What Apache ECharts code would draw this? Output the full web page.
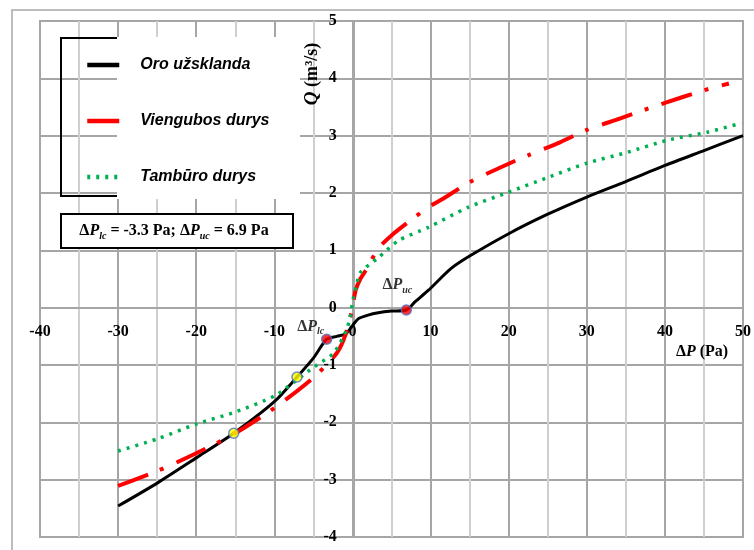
<!DOCTYPE html>
<html>
<head>
<meta charset="utf-8">
<script src="https://cdn.jsdelivr.net/npm/echarts@6/dist/echarts.min.js"></script>
<style>
  html, body { margin: 0; padding: 0; background: #fff; }
  #chart { width: 754px; height: 550px; }
</style>
</head>
<body>
<div id="chart"></div>
<script>
// Oro užsklanda (black)
var blackX = [-30, -25, -20, -15.2, -10, -7.1, -5, -3.3, -2, -0.9, -0.3, 0.3, 0.8, 2, 3.3, 5, 6.9, 8, 9.7, 12.6, 15, 20, 25, 30, 35, 40, 45, 50];
var blackY = [-3.46, -3.06, -2.62, -2.19, -1.64, -1.21, -0.88, -0.55, -0.5, -0.46, -0.37, -0.26, -0.19, -0.13, -0.09, -0.06, -0.04, 0.1, 0.3, 0.68, 0.9, 1.29, 1.63, 1.93, 2.2, 2.48, 2.74, 3.0];

// Viengubos durys (red)
var redX = [-30, -25, -20, -15, -10, -5, -2, -0.8, 0, 0.4, 1, 1.7, 3.3, 5, 8, 9.7, 11.6, 15, 19, 22.7, 26.5, 30, 34.3, 38, 42.2, 45.7, 48.2];
var redY = [-3.11, -2.85, -2.54, -2.19, -1.75, -1.22, -0.79, -0.44, 0, 0.3, 0.5, 0.65, 1.03, 1.26, 1.58, 1.75, 1.9, 2.19, 2.45, 2.67, 2.88, 3.1, 3.3, 3.48, 3.67, 3.82, 3.91];

// Tambūro durys (green)
var greenX = [-30, -25, -20, -15, -10, -7, -5, -2.4, -0.8, -0.3, 0.1, 0.5, 1, 3.3, 5.9, 9.7, 14.8, 19.9, 25, 30, 35.2, 40.3, 45.4, 49.8];
var greenY = [-2.5, -2.29, -2.03, -1.82, -1.54, -1.25, -1.04, -0.79, -0.4, -0.17, 0.16, 0.38, 0.61, 0.87, 1.17, 1.4, 1.75, 2.01, 2.27, 2.52, 2.71, 2.92, 3.06, 3.22];

// marked points
var markX = [-15.2, -7.1, -3.3, 6.9];
var markY = [-2.19, -1.21, -0.55, -0.04];
var markColor = ['#ffff00', '#ffff00', '#ff0000', '#ff0000'];
var markLabel = ['', '', 'lc', 'uc'];

var seriesNames = ['Oro užsklanda', 'Viengubos durys', 'Tambūro durys'];

function pairs(xs, ys) {
    return xs.map(function (x, i) { return [x, ys[i]]; });
}

var serif = 'Liberation Serif';
var rich = {
    n: { fontFamily: serif, fontWeight: 'bold', fontSize: 16, color: '#000', lineHeight: 20 },
    i: { fontFamily: serif, fontWeight: 'bold', fontStyle: 'italic', fontSize: 16, color: '#000', lineHeight: 20 },
    s: { fontFamily: serif, fontWeight: 'bold', fontStyle: 'italic', fontSize: 10, color: '#000', lineHeight: 12, verticalAlign: 'bottom' },
    qn: { fontFamily: serif, fontWeight: 'bold', fontSize: 18, color: '#000', lineHeight: 22 },
    qi: { fontFamily: serif, fontWeight: 'bold', fontStyle: 'italic', fontSize: 19, color: '#000', lineHeight: 22 }
};

var labelStyle = { fontFamily: serif, fontWeight: 'bold', fontSize: 16, color: '#000' };

// grid geometry: axes cross at the origin
var gridLeft = 40, gridRight = 8, gridTop = 21, gridBottom = 13;
var plotW = 754 - gridLeft - gridRight, plotH = 550 - gridTop - gridBottom;
var xZeroOffset = -plotW * 40 / 90;   // y axis moved from left edge to x = 0
var yZeroOffset = -plotH * 4 / 9;     // x axis moved from bottom edge to y = 0

var myChart = echarts.init(document.getElementById('chart'), null, { renderer: 'canvas' });

myChart.setOption({
    animation: false,
    backgroundColor: '#fff',
    grid: {
        left: gridLeft, right: gridRight, top: gridTop, bottom: gridBottom,
        show: true, borderColor: '#a6a6a6', borderWidth: 2
    },
    legend: {
        orient: 'vertical',
        left: 85, top: 57,
        padding: 0,
        itemGap: 40,
        itemWidth: 32,
        itemHeight: 16,
        z: 10,
        data: seriesNames,
        itemStyle: { opacity: 0 },
        lineStyle: { width: 4.5 },
        textStyle: {
            fontFamily: 'Liberation Sans', fontWeight: 'bold', fontStyle: 'italic',
            fontSize: 16, color: '#000', padding: [0, 0, 0, 16]
        }
    },
    xAxis: {
        type: 'value', min: -40, max: 50, interval: 10,
        position: 'bottom', offset: yZeroOffset,
        axisLine: { onZero: false, lineStyle: { color: '#a6a6a6', width: 2 } },
        axisTick: { show: false },
        axisLabel: Object.assign({ margin: 16 }, labelStyle),
        splitLine: { lineStyle: { color: '#a6a6a6', width: 2 } },
        minorTick: { show: false, splitNumber: 2 },
        minorSplitLine: { show: true, lineStyle: { color: '#cfcfcf', width: 2 } }
    },
    yAxis: {
        type: 'value', min: -4, max: 5, interval: 1,
        position: 'left', offset: xZeroOffset,
        axisLine: { onZero: false, lineStyle: { color: '#a6a6a6', width: 2 } },
        axisTick: { show: false },
        axisLabel: Object.assign({ margin: 17 }, labelStyle),
        splitLine: { lineStyle: { color: '#a6a6a6', width: 2 } }
    },
    graphic: [
        // outer frame
        { type: 'rect', z: 0, shape: { x: 12, y: 10, width: 800, height: 600 },
          style: { fill: 'none', stroke: '#bdbdbd', lineWidth: 2 } },
        // legend box (left part only visible)
        { type: 'polyline', z: 5, shape: { points: [[118, 38], [61, 38], [61, 196], [118, 196]] },
          style: { fill: 'none', stroke: '#000', lineWidth: 2 } },
        { type: 'rect', z: 6, shape: { x: 117, y: 37, width: 183, height: 162 },
          style: { fill: '#fff' } },
        // annotation box
        { type: 'rect', z: 5, shape: { x: 61, y: 214, width: 232, height: 34 },
          style: { fill: '#fff', stroke: '#000', lineWidth: 2 } },
        { type: 'text', z: 6, x: 174, y: 231,
          style: { text: '{n|Δ}{i|P}{s|lc}{n| = -3.3 Pa; Δ}{i|P}{s|uc}{n| = 6.9 Pa}', rich: rich,
                   align: 'center', verticalAlign: 'middle' } },
        // axis names
        { type: 'text', z: 6, x: 312, y: 74, rotation: Math.PI / 2,
          style: { text: '{qi|Q}{qn| (m³/s)}', rich: rich, align: 'center', verticalAlign: 'middle' } },
        { type: 'text', z: 6, x: 702, y: 352,
          style: { text: '{n|Δ}{i|P}{n| (Pa)}', rich: rich, align: 'center', verticalAlign: 'middle' } }
    ],
    series: [
        {
            name: seriesNames[0], type: 'line', data: pairs(blackX, blackY),
            showSymbol: false, symbol: 'none', smooth: 0.25,
            lineStyle: { color: '#000', width: 3 }, itemStyle: { color: '#000' }
        },
        {
            name: seriesNames[1], type: 'line', data: pairs(redX, redY),
            showSymbol: false, symbol: 'none', smooth: 0.25,
            lineStyle: { color: '#ff0000', width: 4, type: [32, 13, 4, 14] }, itemStyle: { color: '#ff0000' }
        },
        {
            name: seriesNames[2], type: 'line', data: pairs(greenX, greenY),
            showSymbol: false, symbol: 'none', smooth: 0.25,
            lineStyle: { color: '#00b050', width: 3.5, type: [3, 6] }, itemStyle: { color: '#00b050' }
        },
        {
            name: 'points', type: 'scatter', z: 5, symbolSize: 10,
            data: markX.map(function (x, i) {
                return {
                    value: [x, markY[i]],
                    itemStyle: { color: markColor[i], borderColor: '#4a72c4', borderWidth: 1.5 },
                    label: {
                        show: markLabel[i] !== '',
                        position: 'top',
                        offset: markLabel[i] === 'lc' ? [-16, 8] : [-9, -4],
                        formatter: '{n|Δ}{i|P}{s|' + markLabel[i] + '}',
                        rich: rich
                    }
                };
            })
        }
    ]
});
</script>
</body>
</html>
